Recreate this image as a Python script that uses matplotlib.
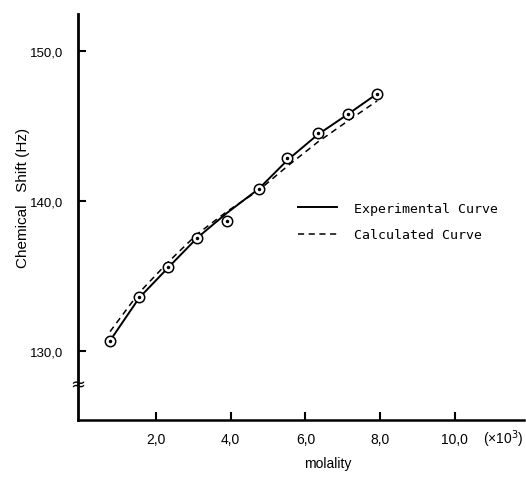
import matplotlib
matplotlib.use("Agg")
import matplotlib.pyplot as plt
from matplotlib.lines import Line2D

# ---- data ----
molality = [0.77, 1.55, 2.33, 3.10, 3.89, 4.76, 5.52, 6.33, 7.13, 7.92]
shift_obs = [1306.9, 1336.2, 1355.8, 1375.8, 1386.9, 1408.5, 1428.7, 1445.3, 1458.0, 1471.8]
shift_exp_curve = [1306.9, 1335.5, 1355.8, 1375.5, 1392.0, 1408.5, 1427.5, 1444.5, 1458.0, 1471.8]
shift_calc_curve = [1313.0, 1339.0, 1359.5, 1378.0, 1393.0, 1407.5, 1423.5, 1439.5, 1453.5, 1467.0]
xticks = [2.0, 4.0, 6.0, 8.0, 10.0]
xtick_labels = ["2,0", "4,0", "6,0", "8,0", "10,0"]
yticks = [1300, 1400, 1500]
ytick_labels = ["130,0", "140,0", "150,0"]

narrow = ["Liberation Sans Narrow", "Liberation Sans", "DejaVu Sans"]
mono = ["DejaVu Sans Mono"]

fig = plt.figure(figsize=(5.26, 4.81), dpi=100)
ax = fig.add_axes([78/526, 1-421/481, (524-78)/526, (421-15)/481])

ax.plot(molality, shift_exp_curve, color="black", lw=1.4, label="Experimental Curve")
ax.plot(molality, shift_calc_curve, color="black", lw=1.1, ls=(0, (4, 3)), label="Calculated Curve")
ax.plot(molality, shift_obs, ls="none", marker="o", ms=7.5, mfc="white", mec="black", mew=1.1)
ax.plot(molality, shift_obs, ls="none", marker="o", ms=1.5, mfc="black", mec="black")

ax.set_xlim(-0.087, 11.85)
ax.set_ylim(1254, 1525)
ax.set_xticks(xticks)
ax.set_xticklabels(xtick_labels, fontfamily=narrow, fontsize=10)
ax.set_yticks(yticks)
ax.set_yticklabels(ytick_labels, fontfamily=narrow, fontsize=9.5)
ax.tick_params(direction="in", length=6, width=1.5)
ax.tick_params(axis="y", pad=11)
ax.tick_params(axis="x", pad=9)

for s in ["top", "right"]:
    ax.spines[s].set_visible(False)
ax.spines["left"].set_linewidth(2.0)
ax.spines["bottom"].set_linewidth(1.8)

ax.set_ylabel("Chemical   Shift (Hz)", fontfamily=narrow, fontsize=11)
ax.yaxis.set_label_coords(-0.108, 0.549)
ax.set_xlabel("molality", fontfamily=narrow, fontsize=10)
ax.xaxis.set_label_coords(0.56, -0.089)

# multiplier note
ax.text(1.0, -0.044, "(×10$^3$)", transform=ax.transAxes, ha="right", va="center",
        fontfamily=narrow, fontsize=10)
# axis break mark
ax.text(0.0, 0.088, "≈", transform=ax.transAxes, ha="center", va="center",
        fontsize=13, rotation=0)

handles = [Line2D([], [], color="black", lw=1.4),
           Line2D([], [], color="black", lw=1.1, ls=(0, (4, 3)))]
leg = fig.legend(handles, ["Experimental Curve", "Calculated Curve"],
                 loc="upper left", bbox_to_anchor=(291/526, 1-196/481),
                 frameon=False, borderpad=0, handlelength=3.0, handletextpad=1.3,
                 labelspacing=1.05, prop={"family": mono, "size": 9.5})

fig.savefig("out.png", dpi=100)
